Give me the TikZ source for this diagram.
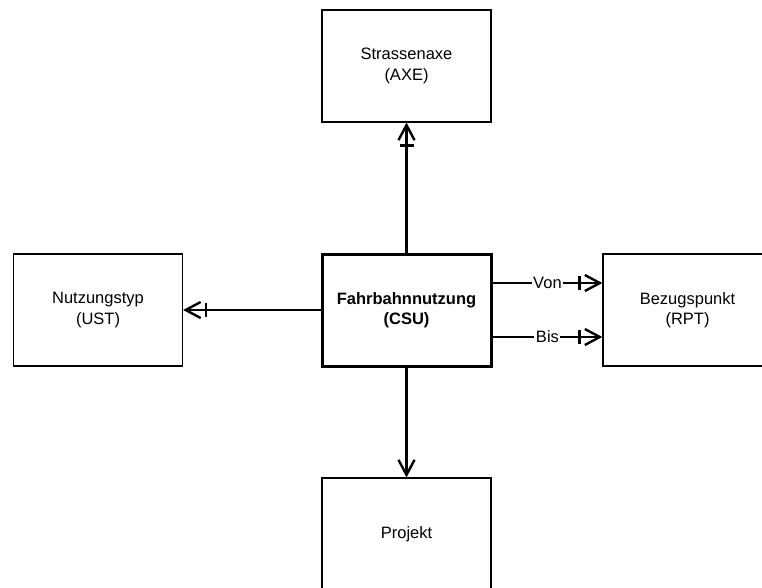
\documentclass[tikz,border=0pt]{standalone}
\usepackage{fontspec}
\setmainfont{Liberation Sans}
\usetikzlibrary{arrows.meta,decorations.markings}
\begin{document}
\begin{tikzpicture}[x=1pt,y=-1pt,
  entity/.style={draw, line width=1.2pt, minimum width=169pt, minimum height=112pt,
    align=center, inner sep=0pt, font=\fontsize{16.5}{20.5}\selectfont},
  mainentity/.style={entity, line width=3pt, font=\fontsize{16.5}{20.5}\selectfont\bfseries},
  link/.style={line width=2.4pt},
  tipto/.style={-{Straight Barb[length=15pt,width=16pt,line width=2.4pt]}},
  barred/.style={postaction={decorate}, decoration={markings,
    mark=at position #1 with {\draw[arrows=-, line width=2.4pt] (0,-7pt) -- (0,7pt);}}},
  rel/.style={fill=white, inner sep=1.5pt, font=\fontsize{16.5}{20.5}\selectfont}
]
\path[use as bounding box, clip] (0,0) rectangle (762,587);

% entities
\node[entity] (axe) at (406.5,66) {Strassenaxe\\(AXE)};
\node[entity] (ust) at (98,310) {Nutzungstyp\\(UST)};
\node[mainentity] (csu) at (406.5,310) {Fahrbahnnutzung\\(CSU)};
\node[entity] (rpt) at (687.5,310) {Bezugspunkt\\(RPT)};
\node[entity] (prj) at (406.5,534) {Projekt};

% relations
\draw[link, tipto, barred=-23pt] (csu) -- (axe);
\draw[link, tipto, barred=-23pt] (csu) -- (ust);
\draw[link, tipto] (csu) -- (prj);
\draw[link, tipto, barred=-23pt] ([yshift=27pt]csu.east) -- ([yshift=27pt]rpt.west)
  node[rel, midway] {Von};
\draw[link, tipto, barred=-23pt] ([yshift=-27pt]csu.east) -- ([yshift=-27pt]rpt.west)
  node[rel, midway] {Bis};
\end{tikzpicture}
\end{document}
